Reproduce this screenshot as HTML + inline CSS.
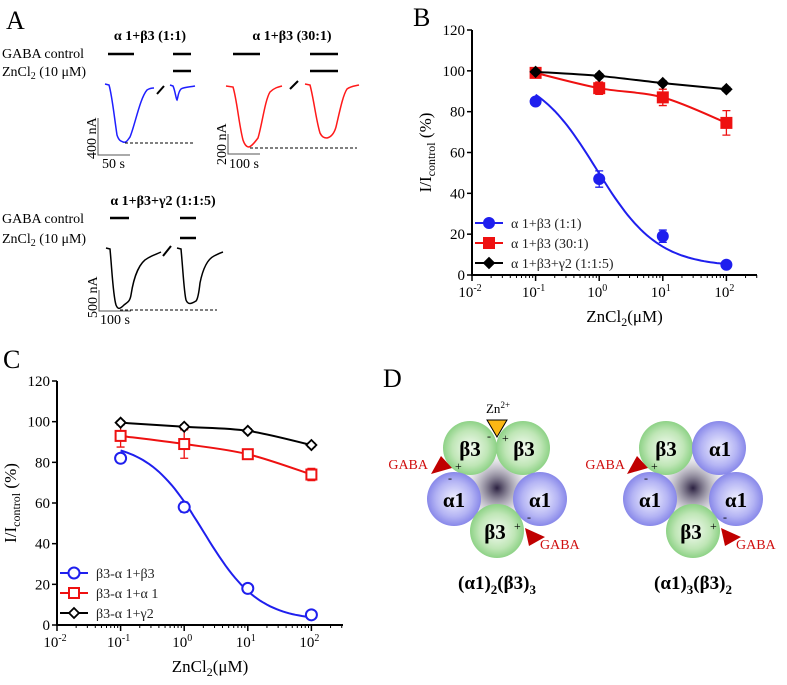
<!DOCTYPE html>
<html><head><meta charset="utf-8"><style>
html,body{margin:0;padding:0;background:#fff;font-family:"Liberation Serif","DejaVu Serif",serif;}
svg, svg text{font-family:"Liberation Serif","DejaVu Serif",serif;}
</style></head><body>
<svg id="fig" width="787" height="680" viewBox="0 0 787 680" xmlns="http://www.w3.org/2000/svg" font-family="'Liberation Serif', 'DejaVu Serif', serif">
<defs>
<radialGradient id="gG" cx="50%" cy="50%" r="55%"><stop offset="0" stop-color="#f4fbf2"/><stop offset="0.6" stop-color="#bfe6b6"/><stop offset="1" stop-color="#7fcc78"/></radialGradient>
<radialGradient id="gB" cx="50%" cy="50%" r="55%"><stop offset="0" stop-color="#f2f2ff"/><stop offset="0.6" stop-color="#b4b4f4"/><stop offset="1" stop-color="#7b7be6"/></radialGradient>
<radialGradient id="gC" cx="50%" cy="50%" r="50%"><stop offset="0" stop-color="#2a2040"/><stop offset="1" stop-color="#d8d8e0" stop-opacity="0.2"/></radialGradient>
</defs>

<!-- Panel letters -->
<text x="6" y="29" font-size="26">A</text>
<text x="413" y="26" font-size="26">B</text>
<text x="3" y="368" font-size="26">C</text>
<text x="383" y="387" font-size="26">D</text>

<!-- Panel A -->
<g font-size="14">
 <text x="150" y="40" text-anchor="middle" font-weight="bold">α 1+β3 (1:1)</text>
 <text x="292" y="40" text-anchor="middle" font-weight="bold">α 1+β3 (30:1)</text>
 <text x="163" y="205" text-anchor="middle" font-weight="bold">α 1+β3+γ2 (1:1:5)</text>
 <text x="2" y="58">GABA control</text>
 <text x="2" y="76">ZnCl<tspan font-size="10" dy="3">2</tspan><tspan dy="-3"> (10 μM)</tspan></text>
 <text x="2" y="223">GABA control</text>
 <text x="2" y="243">ZnCl<tspan font-size="10" dy="3">2</tspan><tspan dy="-3"> (10 μM)</tspan></text>
 <g stroke="#000" stroke-width="2.5">
  <line x1="108" y1="54" x2="134" y2="54"/><line x1="173" y1="54" x2="191" y2="54"/><line x1="173" y1="71" x2="191" y2="71"/>
  <line x1="233" y1="54" x2="260" y2="54"/><line x1="310" y1="54" x2="338" y2="54"/><line x1="310" y1="71" x2="338" y2="71"/>
  <line x1="110" y1="218" x2="129" y2="218"/><line x1="180" y1="218" x2="196" y2="218"/><line x1="180" y1="238" x2="196" y2="238"/>
  <line x1="157" y1="94" x2="164" y2="86" stroke-width="2"/><line x1="290" y1="89" x2="298" y2="81" stroke-width="2"/><line x1="163" y1="256" x2="171" y2="246" stroke-width="2"/>
 </g>
 <path fill="none" stroke="#1f1fff" stroke-width="1.5" d="M105,84 L109,85 C112,95 114,115 117,135 C119,141 121,141 123,142 C126,143 127,141 130,137 C135,125 140,98 147,90 C150,88 152,88 154,88"/>
 <path fill="none" stroke="#1f1fff" stroke-width="1.5" d="M170,85 L173,86 C175,90 176,99 177,100 C178,98 178,92 181,89 C184,87 190,87 195,86"/>
 <path fill="none" stroke="#ff1a1a" stroke-width="1.5" d="M226,86 L233,87 C237,100 239,125 243,140 C245,146 247,147 249,147 C252,146 255,142 258,138 C262,125 265,100 270,92 C274,88 278,87 282,86"/>
 <path fill="none" stroke="#ff1a1a" stroke-width="1.5" d="M305,84 L310,85 C314,100 316,120 320,133 C322,137 324,138 327,138 C331,137 334,134 336,127 C340,110 343,95 347,89 C351,86 355,86 359,85"/>
 <path fill="none" stroke="#000" stroke-width="1.5" d="M106,248 L110,249 C112,270 113,295 116,305 C118,310 120,309 124,305 C128,302 130,301 131,295 C134,275 140,262 148,258 C153,255 157,254 161,252"/>
 <path fill="none" stroke="#000" stroke-width="1.5" d="M177,248 L181,249 C183,270 184,292 186,300 C188,305 191,304 196,301 C198,299 199,292 200,283 C203,268 208,259 214,256 C218,254 220,253 223,252"/>
 <g stroke="#000" stroke-width="1" stroke-dasharray="3,2">
  <line x1="125" y1="143" x2="195" y2="143"/><line x1="250" y1="148" x2="357" y2="148"/><line x1="120" y1="310" x2="217" y2="310"/>
 </g>
 <g stroke="#555" stroke-width="1" fill="none">
  <path d="M98,118 V155 H130"/><path d="M228,134 V154 H260"/><path d="M99,290 V311 H131"/>
 </g>
 <text transform="translate(96,159) rotate(-90)" font-size="14">400 nA</text>
 <text x="102" y="168" font-size="14">50 s</text>
 <text transform="translate(226,165) rotate(-90)" font-size="14">200 nA</text>
 <text x="229" y="168" font-size="14">100 s</text>
 <text transform="translate(97,318) rotate(-90)" font-size="14">500 nA</text>
 <text x="100" y="324" font-size="14">100 s</text>
</g>

<g id="plotB"></g>
<g id="plotC"></g>

<!-- Panel D -->
<g font-weight="bold" font-size="21">
 <g>
  <circle cx="497" cy="488" r="34" fill="url(#gC)"/>
  <circle cx="470" cy="448" r="27" fill="url(#gG)"/><circle cx="523" cy="448" r="27" fill="url(#gG)"/>
  <circle cx="454" cy="499" r="27" fill="url(#gB)"/><circle cx="540" cy="499" r="27" fill="url(#gB)"/>
  <circle cx="497" cy="531" r="27" fill="url(#gG)"/>
  <text x="470" y="456" text-anchor="middle">β3</text><text x="524" y="456" text-anchor="middle">β3</text>
  <text x="454" y="507" text-anchor="middle">α1</text><text x="540" y="507" text-anchor="middle">α1</text>
  <text x="495" y="539" text-anchor="middle">β3</text>
  <polygon points="487,420 507,420 497,437" fill="#fbb714" stroke="#000" stroke-width="1"/>
  <text x="498" y="413" text-anchor="middle" font-weight="normal" font-size="13">Zn<tspan font-size="9" dy="-5">2+</tspan></text>
  <polygon points="431,474 441,456 452,468" fill="#c00000"/>
  <polygon points="525,528 545,537 529,546" fill="#c00000"/>
  <text x="428" y="469" text-anchor="end" font-weight="normal" font-size="14" fill="#d01010">GABA</text>
  <text x="540" y="549" font-weight="normal" font-size="14" fill="#d01010">GABA</text>
  <g font-weight="normal" font-size="12"><text x="455" y="470">+</text><text x="448" y="482">-</text><text x="487" y="440">-</text><text x="502" y="442">+</text><text x="514" y="530">+</text><text x="527" y="521">-</text></g>
  <text x="497" y="589" text-anchor="middle" font-size="19">(α1)<tspan font-size="13" dy="5">2</tspan><tspan dy="-5">(β3)</tspan><tspan font-size="13" dy="5">3</tspan></text>
 </g>
 <g>
  <circle cx="693" cy="488" r="34" fill="url(#gC)"/>
  <circle cx="666" cy="448" r="27" fill="url(#gG)"/><circle cx="719" cy="448" r="27" fill="url(#gB)"/>
  <circle cx="650" cy="499" r="27" fill="url(#gB)"/><circle cx="736" cy="499" r="27" fill="url(#gB)"/>
  <circle cx="693" cy="531" r="27" fill="url(#gG)"/>
  <text x="666" y="456" text-anchor="middle">β3</text><text x="720" y="456" text-anchor="middle">α1</text>
  <text x="650" y="507" text-anchor="middle">α1</text><text x="736" y="507" text-anchor="middle">α1</text>
  <text x="691" y="539" text-anchor="middle">β3</text>
  <polygon points="627,474 637,456 648,468" fill="#c00000"/>
  <polygon points="721,528 741,537 725,546" fill="#c00000"/>
  <text x="625" y="469" text-anchor="end" font-weight="normal" font-size="14" fill="#d01010">GABA</text>
  <text x="736" y="549" font-weight="normal" font-size="14" fill="#d01010">GABA</text>
  <g font-weight="normal" font-size="12"><text x="651" y="470">+</text><text x="644" y="482">-</text><text x="710" y="530">+</text><text x="723" y="521">-</text></g>
  <text x="693" y="589" text-anchor="middle" font-size="19">(α1)<tspan font-size="13" dy="5">3</tspan><tspan dy="-5">(β3)</tspan><tspan font-size="13" dy="5">2</tspan></text>
 </g>
</g>
</svg>
<script>
const concentrations = [0.1, 1, 10, 100];
const yTicks = [0, 20, 40, 60, 80, 100, 120];
const xTickExps = [-2, -1, 0, 1, 2];
// Panel B
const bNames = ["α 1+β3 (1:1)", "α 1+β3 (30:1)", "α 1+β3+γ2 (1:1:5)"];
const bBlue = [85, 47, 19, 5];
const bBlueErr = [1, 4, 3, 1];
const bRed = [99, 91.5, 87, 74.5];
const bRedErr = [1.5, 3, 4, 6];
const bBlack = [99.5, 97.5, 94, 91];
const bBlackErr = [1, 1, 1, 1];
const bBlueFit = [4, 100, 0.9, 0.9]; // bottom, top, IC50, hill
// Panel C
const cNames = ["β3-α 1+β3", "β3-α 1+α 1", "β3-α 1+γ2"];
const cBlue = [82, 58, 18, 5];
const cBlueErr = [1, 2.5, 1, 1];
const cRed = [93, 89, 84, 74];
const cRedErr = [5.5, 7, 1.5, 3];
const cBlack = [99.5, 97.5, 95.5, 88.5];
const cBlackErr = [1, 1, 1, 1];
const cBlueFit = [2, 90, 2, 1];

const NS = "http://www.w3.org/2000/svg";
function mk(parent, tag, attrs, text) {
  const e = document.createElementNS(NS, tag);
  for (const k in attrs) e.setAttribute(k, attrs[k]);
  if (text !== undefined) e.textContent = text;
  parent.appendChild(e);
  return e;
}
function hill(p, x) { return p[0] + (p[1] - p[0]) / (1 + Math.pow(x / p[2], p[3])); }

function plot(gid, L, T, B, R, series, names, fitParams, open) {
  const g = document.getElementById(gid);
  const dec = 63.6;
  const X = v => L + (Math.log10(v) + 2) * dec;
  const Y = v => B - v / 120 * (B - T);
  const ax = mk(g, "path", {d: `M${L},${T} V${B} H${R}`, fill: "none", stroke: "#000", "stroke-width": 2});
  
  
  yTicks.forEach(t => {
    mk(g, "line", {x1: L - 5, x2: L, y1: Y(t), y2: Y(t), stroke: "#000", "stroke-width": 1.5});
    const lb = mk(g, "text", {x: L - 7, y: Y(t) + 5, "text-anchor": "end", "font-size": 15}, String(t));
    
    
  });
  for (let e = -2; e <= 2; e++) {
    for (let m = 2; m <= 9; m++) {
      const xv = X(m * Math.pow(10, e));
      if (xv < R) mk(g, "line", {x1: xv, x2: xv, y1: B, y2: B + 3, stroke: "#000", "stroke-width": 1});
    }
  }
  xTickExps.forEach(e => {
    const xv = X(Math.pow(10, e));
    mk(g, "line", {x1: xv, x2: xv, y1: B, y2: B + 6, stroke: "#000", "stroke-width": 1.5});
    const lb = mk(g, "text", {x: xv - 2, y: B + 22, "text-anchor": "middle", "font-size": 15}, "10");
    
    
    mk(lb, "tspan", {"font-size": 10, dy: -6}, String(e < 0 ? "-" + (-e) : e));
  });
  const xt = mk(g, "text", {x: (L + R) / 2 + 10, y: B + 47, "text-anchor": "middle", "font-size": 17}, "ZnCl");
  
  
  mk(xt, "tspan", {"font-size": 12, dy: 4}, "2");
  mk(xt, "tspan", {dy: -4}, "(μM)");
  const yt = mk(g, "text", {transform: `translate(${L - 41},${(T + B) / 2}) rotate(-90)`, "text-anchor": "middle", "font-size": 17}, "I/I");
  
  
  mk(yt, "tspan", {"font-size": 12, dy: 4}, "control");
  mk(yt, "tspan", {dy: -4}, " (%)");
  const colors = ["#1f1fee", "#ee1111", "#000"];
  series.forEach((s, i) => {
    const vals = s[0], errs = s[1], col = colors[i];
    let d = "";
    if (i === 0) {
      for (let k = 0; k <= 60; k++) {
        const lx = -1 + 3 * k / 60, xv = Math.pow(10, lx);
        d += (k ? "L" : "M") + X(xv).toFixed(1) + "," + Y(hill(fitParams, xv)).toFixed(1);
      }
    } else {
      const pts = vals.map((v, k) => [X(concentrations[k]), Y(v)]);
      d = "M" + pts[0][0] + "," + pts[0][1];
      for (let k = 0; k < pts.length - 1; k++) {
        const p0 = pts[Math.max(0, k - 1)], p1 = pts[k], p2 = pts[k + 1], p3 = pts[Math.min(pts.length - 1, k + 2)];
        const c1 = [p1[0] + (p2[0] - p0[0]) / 6, p1[1] + (p2[1] - p0[1]) / 6];
        const c2 = [p2[0] - (p3[0] - p1[0]) / 6, p2[1] - (p3[1] - p1[1]) / 6];
        d += `C${c1[0]},${c1[1]} ${c2[0]},${c2[1]} ${p2[0]},${p2[1]}`;
      }
    }
    const ln = mk(g, "path", {d: d, fill: "none", stroke: col, "stroke-width": 2});
    
    
    vals.forEach((v, k) => {
      const cx = X(concentrations[k]), cy = Y(v), ey = errs[k] / 120 * (B - T);
      const eb = mk(g, "path", {d: `M${cx - 4},${cy - ey} H${cx + 4} M${cx},${cy - ey} V${cy + ey} M${cx - 4},${cy + ey} H${cx + 4}`, stroke: col, "stroke-width": 1.3, fill: "none"});
      
      
      marker(g, i, cx, cy, col, open, 'data-point');
    });
    const ly = (open ? 573 - 310 + T - 71 : 223 - 30 + T - 0) + i * 20;
    const lx = L + 17;
    const lg = mk(g, "line", {x1: lx - 14, x2: lx + 14, y1: ly, y2: ly, stroke: col, "stroke-width": 2});
    
    
    marker(g, i, lx, ly, col, open, 'legend-marker');
    const lt = mk(g, "text", {x: lx + 22, y: ly + 5, "font-size": 14, fill: "#222"}, names[i]);
    
    
  });
}
function marker(g, i, cx, cy, col, open, nm) {
  let m;
  if (i === 0) m = mk(g, "circle", {cx: cx, cy: cy, r: open ? 5.5 : 5, fill: open ? "#fff" : col, stroke: col, "stroke-width": 2});
  else if (i === 1) m = mk(g, "rect", {x: cx - 5, y: cy - 5, width: 10, height: 10, fill: open ? "#fff" : col, stroke: col, "stroke-width": 2});
  else m = mk(g, "polygon", {points: `${cx},${cy - 5} ${cx + 5},${cy} ${cx},${cy + 5} ${cx - 5},${cy}`, fill: open ? "#fff" : col, stroke: col, "stroke-width": 1.8});
  
  
}
plot("plotB", 472, 30, 275, 757,
  [[bBlue, bBlueErr], [bRed, bRedErr], [bBlack, bBlackErr]], bNames, bBlueFit, false);
plot("plotC", 57, 381, 625, 343,
  [[cBlue, cBlueErr], [cRed, cRedErr], [cBlack, cBlackErr]], cNames, cBlueFit, true);
</script>
</body></html>
